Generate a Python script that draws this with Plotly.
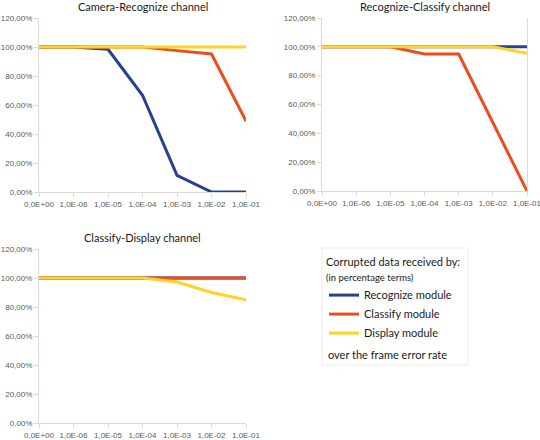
import plotly.graph_objects as go

categories = ["0,0E+00", "1,0E-06", "1,0E-05", "1,0E-04", "1,0E-03", "1,0E-02", "1,0E-01"]

# Camera-Recognize channel
cr_recognize = [100, 100, 98.4, 66.7, 11.5, 0, 0]
cr_classify = [100, 100, 100, 100, 97.5, 95.2, 48.9]
cr_display = [100, 100, 100, 100, 100, 100, 100]

# Recognize-Classify channel
rc_recognize = [100, 100, 100, 100, 100, 100, 100]
rc_classify = [100, 100, 100, 95, 95, 47.5, 0]
rc_display = [100, 100, 100, 100, 100, 100, 95.6]

# Classify-Display channel
cd_recognize = [100, 100, 100, 100, 100, 100, 100]
cd_classify = [100, 100, 100, 100, 100, 100, 100]
cd_display = [100, 100, 100, 100, 97.2, 90, 84.9]

series_names = ["Recognize module", "Classify module", "Display module"]
series_colors = ["#27418e", "#ec4d1c", "#fed428"]

titles = ["Camera-Recognize channel", "Recognize-Classify channel", "Classify-Display channel"]

y_tickvals = [0, 20, 40, 60, 80, 100, 120]
y_ticktext = ["0,00%", "20,00%", "40,00%", "60,00%", "80,00%", "100,00%", "120,00%"]

W, H = 540, 440


def px(v):
    return v / W


def py(v):
    return 1 - v / H


panels = [
    ([cr_recognize, cr_classify, cr_display], (39, 246), (18, 192), False),
    ([rc_recognize, rc_classify, rc_display], (322, 527), (18, 191), True),
    ([cd_recognize, cd_classify, cd_display], (39, 246), (249, 423), False),
]

fig = go.Figure()
layout = {}
annotations = []
for i, (data, (x0, x1), (ytop, ybot), mirror) in enumerate(panels):
    n = "" if i == 0 else str(i + 1)
    for j, vals in enumerate(data):
        fig.add_trace(go.Scatter(
            x=categories, y=vals, mode="lines",
            name=series_names[j],
            line=dict(color=series_colors[j], width=3),
            xaxis="x" + n, yaxis="y" + n,
            showlegend=(i == 0),
            legendrank=j,
            cliponaxis=False,
        ))
    layout["xaxis" + n] = dict(
        domain=[px(x0), px(x1)], anchor="y" + n, type="category",
        range=[0, 6], showgrid=False, zeroline=False, automargin=False,
        showline=True, linecolor="#d9d9d9", linewidth=1,
        ticks="outside", ticklen=4, tickcolor="#d9d9d9",
        tickfont=dict(family="Liberation Sans, Arial", size=8, color="#595959"),
        fixedrange=True,
    )
    layout["yaxis" + n] = dict(
        domain=[py(ybot), py(ytop)], anchor="x" + n,
        range=[0, 120], showgrid=False, zeroline=False, automargin=False,
        showline=True, linecolor="#d9d9d9", linewidth=1,
        mirror=mirror,
        ticks="outside", ticklen=4, tickcolor="#d9d9d9",
        tickvals=y_tickvals, ticktext=y_ticktext,
        tickfont=dict(family="Liberation Sans, Arial", size=8, color="#595959"),
        fixedrange=True,
    )
    annotations.append(dict(
        text=titles[i], x=px((x0 + x1) / 2), y=py(ytop - 12),
        xref="paper", yref="paper", xanchor="center", yanchor="middle",
        showarrow=False,
        font=dict(family="Lato, Open Sans", size=11, color="#1a1a1a"),
    ))

annotations.append(dict(
    text="over the frame error rate", x=px(326), y=py(354),
    xref="paper", yref="paper", xanchor="left", yanchor="middle",
    showarrow=False,
    font=dict(family="Lato, Open Sans", size=11, color="#1a1a1a"),
))

fig.update_layout(
    **layout,
    width=W, height=H,
    margin=dict(l=0, r=0, t=0, b=0),
    paper_bgcolor="white", plot_bgcolor="white",
    annotations=annotations,
    shapes=[dict(type="rect", xref="paper", yref="paper",
                 x0=px(322), x1=px(468), y0=py(365), y1=py(248),
                 line=dict(color="#ececec", width=1), fillcolor="rgba(0,0,0,0)")],
    legend=dict(
        x=px(324), y=py(252), xanchor="left", yanchor="top",
        bgcolor="rgba(0,0,0,0)", borderwidth=0,
        font=dict(family="Lato, Open Sans", size=11, color="#1a1a1a"),
        title=dict(text="Corrupted data received by:<br><span style='font-size:9.5px'>(in percentage terms)</span>",
                   side="top",
                   font=dict(family="Lato, Open Sans", size=11, color="#1a1a1a")),
        itemwidth=30, tracegroupgap=0,
    ),
)

fig.write_html("out.html", config={"displayModeBar": False},
               post_script="document.body.style.margin='0px';")
